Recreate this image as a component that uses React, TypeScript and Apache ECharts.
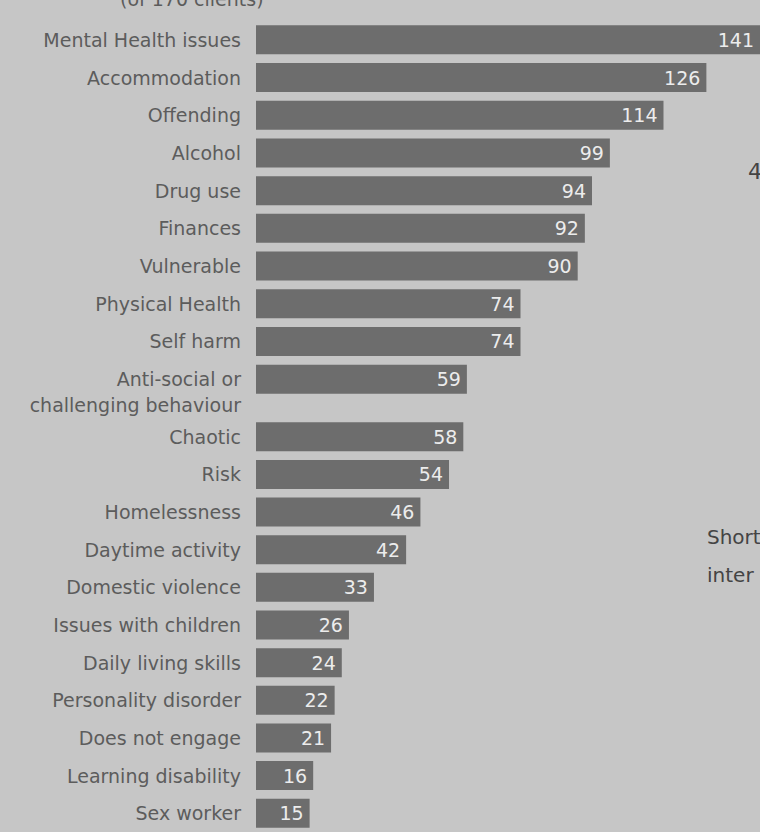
import React, { useEffect, useRef } from "react";
import * as echarts from "echarts";

// upper block (down to the two-line label) and lower block of the same bar list
const categoriesTop = [
  "Mental Health issues",
  "Accommodation",
  "Offending",
  "Alcohol",
  "Drug use",
  "Finances",
  "Vulnerable",
  "Physical Health",
  "Self harm",
  "Anti-social or\nchallenging behaviour",
];
const countsTop = [141, 126, 114, 99, 94, 92, 90, 74, 74, 59];

const categoriesBottom = [
  "Chaotic",
  "Risk",
  "Homelessness",
  "Daytime activity",
  "Domestic violence",
  "Issues with children",
  "Daily living skills",
  "Personality disorder",
  "Does not engage",
  "Learning disability",
  "Sex worker",
];
const countsBottom = [58, 54, 46, 42, 33, 26, 24, 22, 21, 16, 15];

const X_MAX = 141;

const BG = "#c6c6c6";
const BAR = "#6d6d6d";
const TEXT = "#5c5c5c";
const FONT = "DejaVu Sans";

const yAxisFor = (data: string[], gridIndex: number) => ({
  type: "category",
  gridIndex,
  data,
  inverse: true,
  axisLine: { show: false },
  axisTick: { show: false },
  splitLine: { show: false },
  axisLabel: {
    margin: 15,
    color: TEXT,
    fontSize: 19,
    fontFamily: FONT,
    align: "right",
    interval: 0,
    formatter: (v: string) => (v.indexOf("\n") >= 0 ? "{two|" + v + "}" : v),
    rich: {
      two: {
        color: TEXT,
        fontSize: 19,
        fontFamily: FONT,
        lineHeight: 26,
        align: "right",
        padding: [26, 0, 0, 0],
      },
    },
  },
});

const barSeries = (data: number[], idx: number) => ({
  type: "bar",
  xAxisIndex: idx,
  yAxisIndex: idx,
  data,
  barWidth: 29,
  itemStyle: { color: BAR },
  label: {
    show: true,
    position: "insideRight",
    distance: 6,
    color: "#ececec",
    fontSize: 19,
    fontFamily: FONT,
  },
});

export default function App() {
  const ref = useRef<HTMLDivElement>(null);

  useEffect(() => {
    if (!ref.current) return;
    const chart = echarts.init(ref.current, null, { renderer: "svg" });
    chart.setOption({
      animation: false,
      backgroundColor: BG,
      grid: [
        { left: 256, top: 21, width: 519, height: 377, containLabel: false },
        { left: 256, top: 418, width: 519, height: 419, containLabel: false },
      ],
      xAxis: [
        { type: "value", gridIndex: 0, min: 0, max: X_MAX, show: false },
        { type: "value", gridIndex: 1, min: 0, max: X_MAX, show: false },
      ],
      yAxis: [yAxisFor(categoriesTop, 0), yAxisFor(categoriesBottom, 1)],
      graphic: [
        { type: "text", left: 120, top: -11, style: { text: "(of 170 clients)", fill: TEXT, fontSize: 19, fontFamily: FONT } },
        { type: "text", left: 748, top: 160, style: { text: "4", fill: "#444", fontSize: 22, fontFamily: FONT } },
        { type: "text", left: 707, top: 527, style: { text: "Short", fill: "#444", fontSize: 20, fontFamily: FONT } },
        { type: "text", left: 707, top: 565, style: { text: "inter", fill: "#444", fontSize: 20, fontFamily: FONT } },
      ],
      series: [barSeries(countsTop, 0), barSeries(countsBottom, 1)],
    });
    return () => chart.dispose();
  }, []);

  return (
    <div
      ref={ref}
      style={{ position: "fixed", left: 0, top: 0, width: 760, height: 832, background: BG }}
    />
  );
}
